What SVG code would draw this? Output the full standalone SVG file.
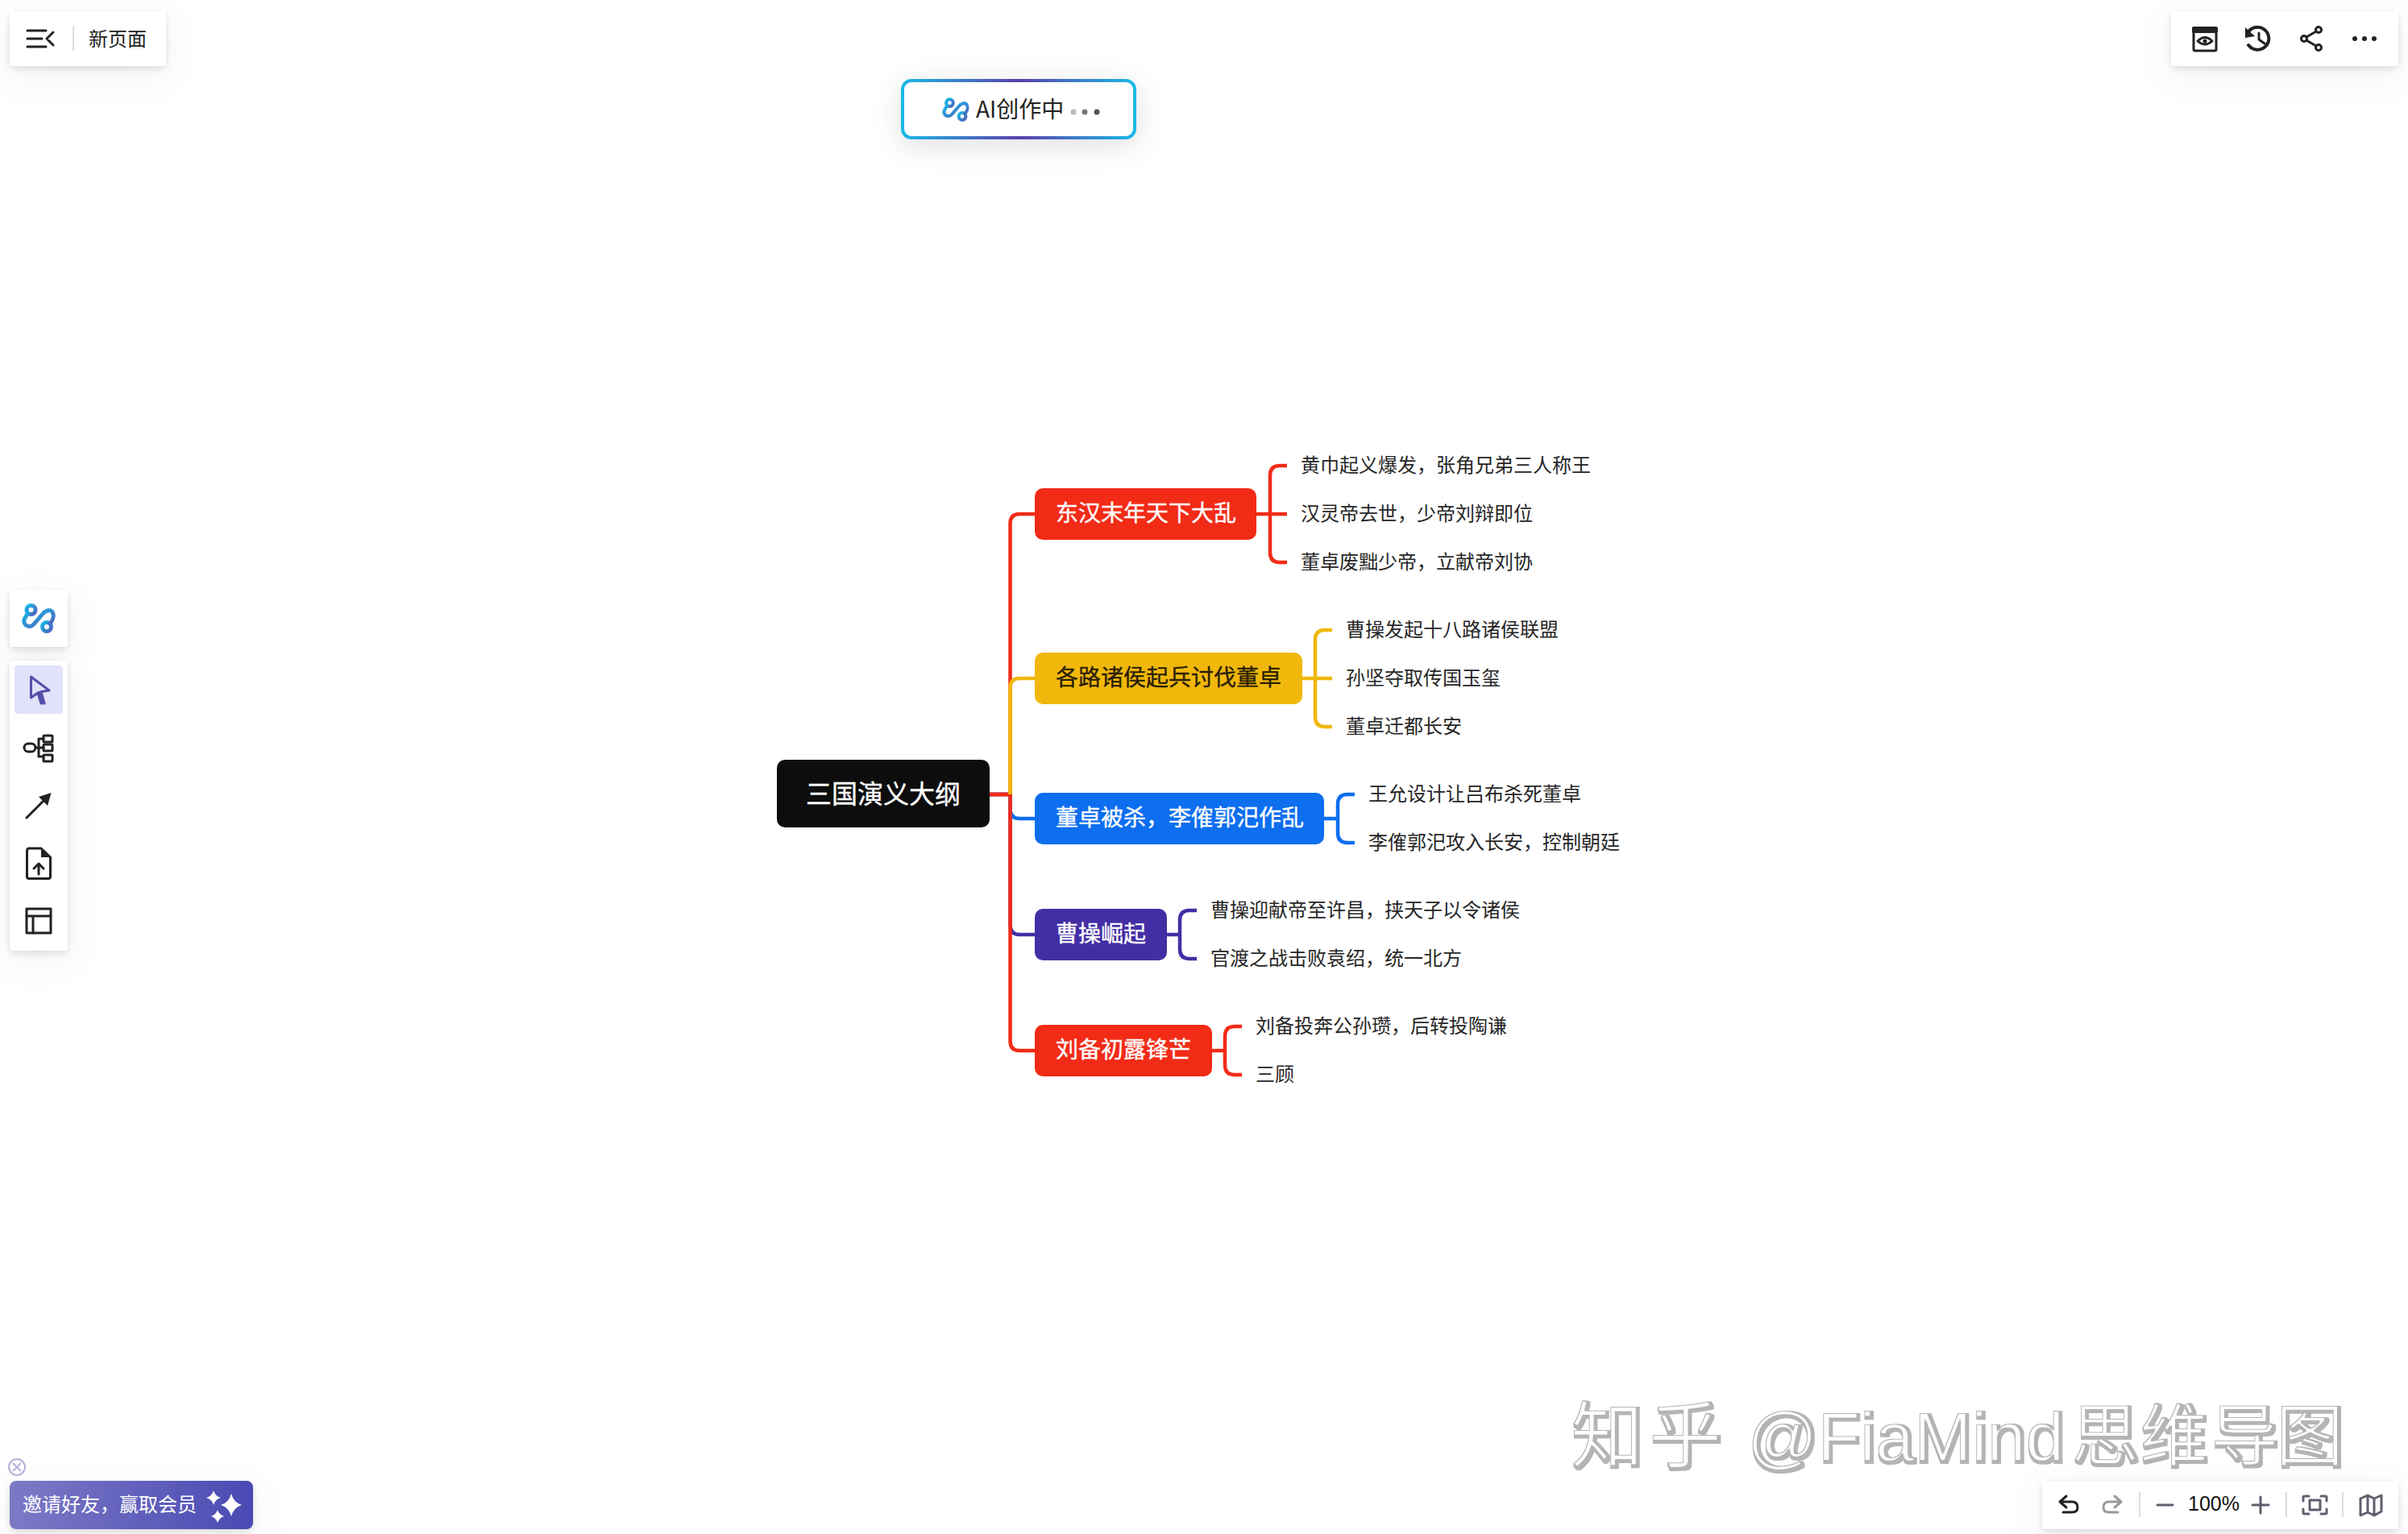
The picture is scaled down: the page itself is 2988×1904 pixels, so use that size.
<svg xmlns="http://www.w3.org/2000/svg" width="2988" height="1904" viewBox="0 0 2988 1904">
<style>
text{font-family:"Noto Sans CJK SC","Noto Sans",sans-serif;dominant-baseline:central}
.leaf{font-size:24px;fill:#262626}
.main{font-size:28px;fill:#fff;stroke:#fff;stroke-width:.35px}
.dark{fill:#2a1f05;stroke:#2a1f05}
.root{font-size:32px;fill:#fff;stroke:#fff;stroke-width:.35px}
.panel{fill:#fff;filter:url(#sh)}
.ic{fill:none;stroke:#222;stroke-width:3;stroke-linecap:round;stroke-linejoin:round}
.ig{fill:none;stroke:#5f5f6e;stroke-width:3;stroke-linecap:round;stroke-linejoin:round}
.div{stroke:#ddd;stroke-width:2}
.c{fill:none;stroke-width:4.5;stroke-linejoin:round}
.red{stroke:#f22b17}.yel{stroke:#f1b80b}.blu{stroke:#0d6eef}.pur{stroke:#442ea5}
</style>
<defs>
<filter id="sh" x="-60%" y="-100%" width="220%" height="320%"><feDropShadow in="SourceGraphic" dx="0" dy="12" stdDeviation="24" flood-color="#000" flood-opacity=".05" result="a"/><feDropShadow in="a" dx="0" dy="3" stdDeviation="4" flood-color="#000" flood-opacity=".12"/></filter>
<filter id="sh2" x="-40%" y="-80%" width="180%" height="280%"><feDropShadow dx="0" dy="8" stdDeviation="18" flood-color="#000" flood-opacity=".12"/></filter>
<filter id="wm" x="-2%" y="-10%" width="104%" height="120%"><feMorphology in="SourceAlpha" operator="dilate" radius="1.8" result="d"/><feFlood flood-color="#b4b4b4"/><feComposite in2="d" operator="in" result="g"/><feOffset in="SourceAlpha" dx="-2.5" dy="-2.5" result="o"/><feMorphology in="o" operator="erode" radius="1.4" result="e"/><feFlood flood-color="#fff"/><feComposite in2="e" operator="in" result="w"/><feMerge><feMergeNode in="g"/><feMergeNode in="w"/></feMerge></filter>
<linearGradient id="ai" x1="0" x2="1" y1="0" y2="0"><stop offset="0" stop-color="#1cb8e8"/><stop offset=".5" stop-color="#5b41ab"/><stop offset="1" stop-color="#1cb8e8"/></linearGradient>
<linearGradient id="lg" x1="0" x2="1" y1="0" y2="1"><stop offset="0" stop-color="#16b9e8"/><stop offset="1" stop-color="#4f62bd"/></linearGradient>
<linearGradient id="inv" x1="0" x2="1" y1="0" y2="0"><stop offset="0" stop-color="#7c7ac6"/><stop offset="1" stop-color="#4a4ab3"/></linearGradient>
<symbol id="logo" viewBox="0 0 40 36" overflow="visible"><g fill="none" stroke="url(#lg)" stroke-width="5" stroke-linecap="round" stroke-linejoin="round"><circle cx="10.500" cy="7" r="5.500"/><circle cx="30" cy="28" r="5.500"/><path d="M6.500 11 3 17C0 22 3 27.500 9 27.500 12 27.500 14 25 16 22.500L24 13C27 9 33 5.500 36.500 9 39.500 13 38.500 19 34 24"/></g></symbol>
</defs>
<rect width="2988" height="1904" fill="#fff"/>
<text id="watermark" y="1785" filter="url(#wm)" fill="#000" style="font-family:'Liberation Sans','Noto Sans CJK SC',sans-serif"><tspan x="1951 2048" font-size="90">知乎</tspan><tspan x="2170" font-size="86">@FiaMind</tspan><tspan x="2572 2657 2745 2826" font-size="84">思维导图</tspan></text>
<g id="connectors">
<path class="c pur" d="M1228 986H1253.500V1148Q1253.500 1160 1265 1160H1284"/>
<path class="c blu" d="M1228 986H1253.500V1004Q1253.500 1016 1265 1016H1284"/>
<path class="c red" d="M1228 986H1253.500V1292Q1253.500 1304 1265 1304H1284"/>
<path class="c red" d="M1228 986H1253.500V650Q1253.500 638 1265 638H1284"/>
<path class="c yel" d="M1253.500 986V854Q1253.500 842 1265 842H1284"/>
<path class="c red" d="M1559 638H1597M1597 578H1588Q1576 578 1576 590V686Q1576 698 1588 698H1597"/>
<path class="c yel" d="M1616 842H1653M1653 782H1644Q1632 782 1632 794V890Q1632 902 1644 902H1653"/>
<path class="c blu" d="M1643 1016H1660M1681 986H1672Q1660 986 1660 998V1034Q1660 1046 1672 1046H1681"/>
<path class="c pur" d="M1448 1160H1464M1485 1130H1476Q1464 1130 1464 1142V1178Q1464 1190 1476 1190H1485"/>
<path class="c red" d="M1504 1304H1520M1541 1274H1532Q1520 1274 1520 1286V1322Q1520 1334 1532 1334H1541"/>
</g>
<g id="root"><rect x="964" y="943" width="264" height="84" rx="10" fill="#0d0d0d"/><text class="root" x="1000" y="983">三国演义大纲</text></g>
<g id="n1"><rect x="1284" y="606" width="275" height="64" rx="10" fill="#f22b17"/><text class="main" x="1310" y="635">东汉末年天下大乱</text></g>
<g id="n2"><rect x="1284" y="810" width="332" height="64" rx="10" fill="#f1b80b"/><text class="main dark" x="1310" y="839">各路诸侯起兵讨伐董卓</text></g>
<g id="n3"><rect x="1284" y="984" width="359" height="64" rx="10" fill="#0d6eef"/><text class="main" x="1310" y="1013">董卓被杀，李傕郭汜作乱</text></g>
<g id="n4"><rect x="1284" y="1128" width="164" height="64" rx="10" fill="#442ea5"/><text class="main" x="1310" y="1157">曹操崛起</text></g>
<g id="n5"><rect x="1284" y="1272" width="220" height="64" rx="10" fill="#f22b17"/><text class="main" x="1310" y="1301">刘备初露锋芒</text></g>
<g id="l11"><text class="leaf" x="1614" y="575">黄巾起义爆发，张角兄弟三人称王</text></g>
<g id="l12"><text class="leaf" x="1614" y="635">汉灵帝去世，少帝刘辩即位</text></g>
<g id="l13"><text class="leaf" x="1614" y="695">董卓废黜少帝，立献帝刘协</text></g>
<g id="l21"><text class="leaf" x="1670" y="779">曹操发起十八路诸侯联盟</text></g>
<g id="l22"><text class="leaf" x="1670" y="839">孙坚夺取传国玉玺</text></g>
<g id="l23"><text class="leaf" x="1670" y="899">董卓迁都长安</text></g>
<g id="l31"><text class="leaf" x="1698" y="983">王允设计让吕布杀死董卓</text></g>
<g id="l32"><text class="leaf" x="1698" y="1043">李傕郭汜攻入长安，控制朝廷</text></g>
<g id="l41"><text class="leaf" x="1502" y="1127">曹操迎献帝至许昌，挟天子以令诸侯</text></g>
<g id="l42"><text class="leaf" x="1502" y="1187">官渡之战击败袁绍，统一北方</text></g>
<g id="l51"><text class="leaf" x="1558" y="1271">刘备投奔公孙瓒，后转投陶谦</text></g>
<g id="l52"><text class="leaf" x="1558" y="1331">三顾</text></g>
<g id="top-left"><rect class="panel" x="12" y="14" width="194" height="68" rx="4"/><path class="ic" d="M34 38H57M34 48H52M34 58H57M66 40 58 48 66 56"/><path class="div" d="M91 32V63"/><text x="110" y="46" font-size="24" fill="#222">新页面</text></g>
<g id="ai-status"><rect x="1120" y="100" width="288" height="71" rx="11" fill="#fff" stroke="url(#ai)" stroke-width="4" filter="url(#sh2)"/><use href="#logo" x="1170" y="122" width="32" height="29"/><text x="1211" y="134" font-size="28" fill="#222">AI创作中</text><circle cx="1332" cy="139" r="3.500" fill="#bbb"/><circle cx="1346" cy="139" r="3.500" fill="#777"/><circle cx="1361" cy="139" r="3.500" fill="#555"/></g>
<g id="top-right"><rect class="panel" x="2694" y="14" width="282" height="68" rx="4"/>
<rect class="ic" x="2722" y="35" width="28" height="28" rx="2"/><rect x="2720" y="33" width="32" height="8" rx="2" fill="#222"/><path class="ic" stroke-width="2" d="M2727 51Q2736 42 2745 51Q2736 59 2727 51Z"/><circle cx="2736" cy="51" r="2.500" fill="#222"/>
<path class="ic" style="stroke-width:4" d="M2789 41A14 14 0 1 1 2790 56"/><path d="M2786 34 2798 45 2786 47Z" fill="#222"/><path class="ic" d="M2803 41V49L2810 54"/>
<circle class="ic" cx="2859" cy="48" r="3.500"/><circle class="ic" cx="2877" cy="37" r="3.500"/><circle class="ic" cx="2877" cy="59" r="3.500"/><path class="ic" d="M2862 46 2874 39M2862 50 2874 57"/>
<circle cx="2922" cy="48" r="3" fill="#222"/><circle cx="2934" cy="48" r="3" fill="#222"/><circle cx="2946" cy="48" r="3" fill="#222"/></g>
<g id="left-logo"><rect class="panel" x="12" y="732" width="72" height="71" rx="4"/><use href="#logo" x="28" y="750" width="40" height="36"/></g>
<g id="left-tools"><rect class="panel" x="12" y="820" width="72" height="360" rx="4"/><rect x="18" y="826" width="60" height="60" rx="4" fill="#e2e1fa"/>
<path d="M38.500 840 61 857 51 858.500 55 873 51 873 47 860 38.500 866Z" fill="none" stroke="#5450a8" stroke-width="3" stroke-linejoin="round"/><path d="M47 858 51 873H55L51 858Z" fill="#5450a8"/>
<rect class="ic" x="30" y="923" width="14" height="10" rx="5"/><path class="ic" d="M44 928H54M48 917V939M48 917H54M48 939H54"/><rect class="ic" x="54" y="913" width="11" height="8" rx="1"/><rect class="ic" x="54" y="924" width="11" height="8" rx="1"/><rect class="ic" x="54" y="937" width="11" height="8" rx="1"/>
<path class="ic" d="M33 1015 54 994"/><path d="M63.500 984 59 1000 48 989Z" fill="#222"/>
<path class="ic" d="M51 1053H36Q33.500 1053 33.500 1056V1088Q33.500 1090.500 36 1090.500H60Q62.500 1090.500 62.500 1088V1064Z"/><path d="M51 1053 62.500 1064H51Z" fill="#222"/><path class="ic" d="M48 1085V1072M42 1078 48 1072 54 1078"/>
<rect class="ic" x="33" y="1128" width="30" height="30"/><path class="ic" d="M33 1137H63M41 1137V1158"/></g>
<g id="invite"><circle cx="21" cy="1821" r="10" fill="none" stroke="#b5b2dc" stroke-width="2"/><path d="M16 1816 26 1826M26 1816 16 1826" stroke="#b5b2dc" stroke-width="2"/><rect x="12" y="1838" width="302" height="60" rx="8" fill="url(#inv)" filter="url(#sh)"/><text x="28" y="1865" font-size="24" fill="#fff">邀请好友，赢取会员</text><path fill="#fff" d="M287 1854Q290 1865 300 1868 290 1871 287 1882 284 1871 274 1868 284 1865 287 1854ZM265 1850Q267 1857 274 1859 267 1861 265 1868 263 1861 256 1859 263 1857 265 1850ZM270 1874Q272 1880 278 1882 272 1884 270 1890 268 1884 262 1882 268 1880 270 1874Z"/></g>
<g id="bottom-right"><rect class="panel" x="2534" y="1838" width="442" height="60" rx="3"/>
<path class="ic" stroke-width="2.500" d="M2564 1857 2556 1864 2564 1871M2556 1864H2571Q2578 1864 2578 1871 2578 1877 2571 1877H2560"/>
<path class="ic" style="stroke:#9a9a9a" d="M2624 1857 2632 1864 2624 1871M2632 1864H2617Q2610 1864 2610 1871 2610 1877 2617 1877H2628"/>
<path class="div" d="M2655 1852V1883M2837 1852V1883M2907 1852V1883"/>
<path class="ig" d="M2677 1868H2696M2795 1868H2815M2805 1858V1878"/>
<text x="2715" y="1866" font-size="25" fill="#111" style="font-family:'Liberation Sans',sans-serif">100%</text>
<path class="ig" d="M2858 1863V1858Q2858 1857 2860 1857H2865M2880 1857H2885Q2887 1857 2887 1858V1863M2887 1873V1878Q2887 1879 2885 1879H2880M2865 1879H2860Q2858 1879 2858 1878V1873"/><rect class="ig" x="2866" y="1862" width="13" height="12"/>
<path class="ig" d="M2929 1860 2938 1856 2946 1860 2955 1856V1876L2946 1881 2938 1877 2929 1881ZM2938 1856V1877M2946 1860V1881"/></g>
</svg>
